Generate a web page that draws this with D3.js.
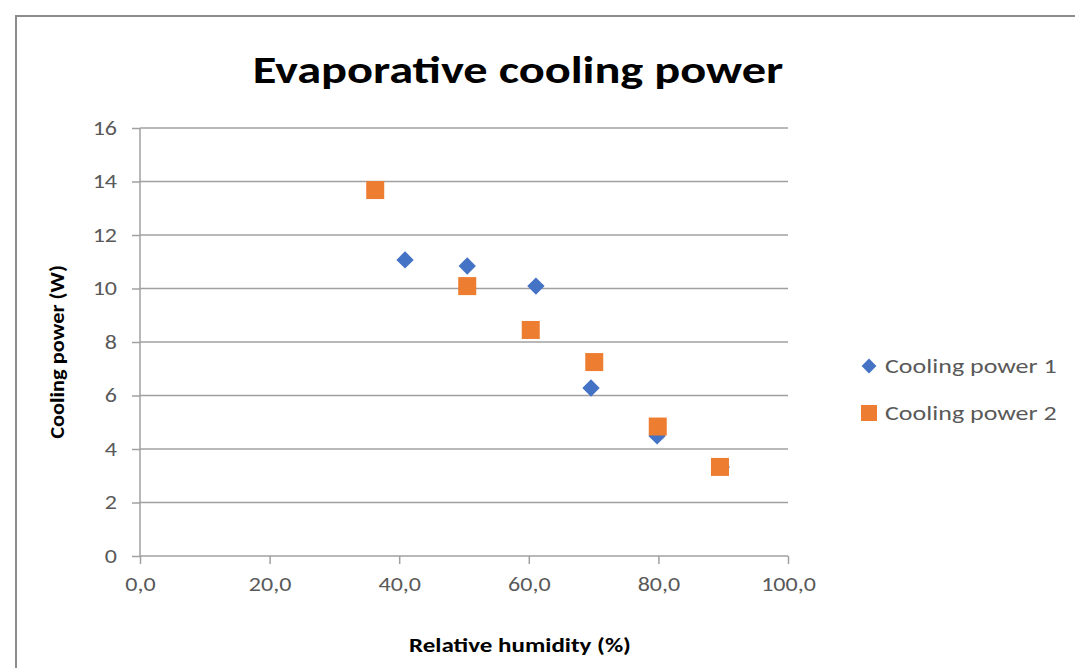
<!DOCTYPE html>
<html><head><meta charset="utf-8">
<script src="https://cdn.jsdelivr.net/npm/d3@7"></script>
<style>
body{margin:0;background:#fff;}
svg{display:block;font-family:Carlito,Lato,"Open Sans",sans-serif;}
</style></head><body>
<svg id="c" width="1075" height="668"></svg>
<script>
const series1X = [40.9, 50.5, 61.1, 69.6, 79.8, 89.7];
const series1Y = [11.07, 10.84, 10.09, 6.28, 4.49, 3.33];
const series2X = [36.3, 50.5, 60.3, 70.1, 79.9, 89.5];
const series2Y = [13.68, 10.09, 8.45, 7.25, 4.84, 3.33];
const seriesNames = ["Cooling power 1", "Cooling power 2"];
const xTicks = [0, 20, 40, 60, 80, 100];
const yTicks = [0, 2, 4, 6, 8, 10, 12, 14, 16];
const titleText = "Evaporative cooling power";
const xTitle = "Relative humidity (%)";
const yTitle = "Cooling power (W)";

const svg = d3.select("#c");
const blue = "#4472C4", orange = "#ED7D31", grid = "#a0a0a0", txt = "#595959";
const FONT = "Carlito,Lato,'Open Sans',sans-serif";

function stretch(sel, f){
  sel.each(function(){
    const n = this.getComputedTextLength();
    d3.select(this).attr("textLength", n*f).attr("lengthAdjust","spacingAndGlyphs");
  });
}

// outer frame
svg.append("path").attr("d","M1075,16 H16 V668").attr("fill","none").attr("stroke","#8c8c8c").attr("stroke-width",2);

const x = d3.scaleLinear().domain([0,100]).range([140,788]);
const y = d3.scaleLinear().domain([0,16]).range([556,128]);

// gridlines
svg.append("g").selectAll("line").data(yTicks.slice(1)).join("line")
  .attr("x1",140).attr("x2",788).attr("y1",d=>y(d)).attr("y2",d=>y(d))
  .attr("stroke",grid).attr("stroke-width",1.5);

// y axis
const yAxis = svg.append("g").attr("transform","translate(140,0)")
  .call(d3.axisLeft(y).tickValues(yTicks).tickSize(8).tickPadding(15).tickFormat(d3.format("d")));
// x axis
const fmt = d => d.toFixed(1).replace(".", ",");
const xAxis = svg.append("g").attr("transform","translate(0,556)")
  .call(d3.axisBottom(x).tickValues(xTicks).tickSize(8).tickPadding(13).tickFormat(fmt));
[yAxis,xAxis].forEach(a=>{
  a.attr("font-size",20).attr("font-family",FONT);
  a.select(".domain").attr("stroke",grid).attr("stroke-width",1.5);
  a.selectAll(".tick line").attr("stroke",grid).attr("stroke-width",1.5);
  a.selectAll(".tick text").attr("fill",txt);
  stretch(a.selectAll(".tick text"), 1.2);
});
xAxis.select(".domain").attr("d","M140,0H788");
yAxis.select(".domain").attr("d","M0,556V128");

// title
stretch(svg.append("text").attr("x",518).attr("y",83).attr("text-anchor","middle")
  .attr("font-size",39).attr("font-weight","bold").attr("fill","#000").text(titleText), 1.24);
stretch(svg.append("text").attr("x",520).attr("y",652).attr("text-anchor","middle")
  .attr("font-size",20).attr("font-weight","bold").attr("fill","#000").text(xTitle), 1.25);
stretch(svg.append("text").attr("transform","translate(64,352) rotate(-90)").attr("text-anchor","middle")
  .attr("font-size",20).attr("font-weight","bold").attr("fill","#000").text(yTitle), 1.12);

const diamond = d3.symbol().type(d3.symbolSquare).size(150);
const sq = 18;
const data1 = series1X.map((v,i)=>({x:v,y:series1Y[i]}));
const data2 = series2X.map((v,i)=>({x:v,y:series2Y[i]}));

svg.append("g").selectAll("path").data(data1).join("path")
  .attr("d",diamond).attr("fill",blue)
  .attr("transform",d=>`translate(${x(d.x)},${y(d.y)}) rotate(45)`);
svg.append("g").selectAll("rect").data(data2).join("rect")
  .attr("x",d=>x(d.x)-sq/2).attr("y",d=>y(d.y)-sq/2).attr("width",sq).attr("height",sq).attr("fill",orange);

// legend
const lg = svg.append("g");
lg.append("path").attr("d",d3.symbol().type(d3.symbolSquare).size(110)).attr("fill",blue)
  .attr("transform","translate(869,366) rotate(45)");
lg.append("rect").attr("x",861).attr("y",405).attr("width",16).attr("height",16).attr("fill",orange);
lg.selectAll("text.l").data(seriesNames).join("text").attr("class","l")
  .attr("x",885).attr("y",(d,i)=>373+i*47).attr("font-size",20).attr("fill",txt).text(d=>d)
  .call(s=>stretch(s,1.3));
</script>
</body></html>
